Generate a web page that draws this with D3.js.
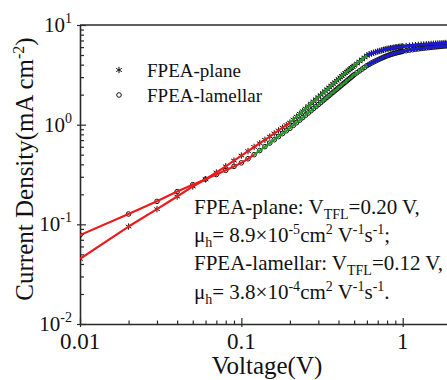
<!DOCTYPE html>
<html><head><meta charset="utf-8">
<script src="https://cdn.jsdelivr.net/npm/d3@7"></script>
<style>
html,body{margin:0;padding:0;background:#fff;overflow:hidden}
svg{display:block}
text{font-family:"Liberation Serif","Times New Roman",serif;fill:#111}
</style></head><body>
<svg id="chart" width="447" height="380"></svg>
<script>
// ---- data ----
const voltage = [
 0.01,0.02,0.03,0.04,0.05,0.06,0.07,0.08,0.09,0.10,
 0.11,0.12,0.13,0.14,0.15,0.16,0.17,0.18,0.19,0.20,
 0.21,0.22,0.23,0.24,0.25,0.26,0.27,0.28,0.29,0.30,
 0.31,0.32,0.33,0.34,0.35,0.36,0.37,0.38,0.39,0.40,
 0.41,0.42,0.43,0.44,0.45,0.46,0.47,0.48,0.49,0.50,
 0.52,0.54,0.56,0.58,0.60,0.62,0.64,0.66,0.68,0.70,
 0.72,0.74,0.76,0.78,0.80,0.82,0.84,0.86,0.88,0.90,
 0.92,0.94,0.96,0.98,1.00,
 1.05,1.10,1.15,1.20,1.25,1.30,1.35,1.40,1.45,1.50,
 1.55,1.60,1.65,1.70,1.75,1.80,1.85,1.90,1.95,2.00];
const planeJ = [
 0.045,0.095,0.142,0.19,0.24,0.283,0.331,0.382,0.436,0.49,
 0.543,0.597,0.651,0.705,0.76,0.817,0.875,0.932,0.99,1.05,
 1.127,1.205,1.286,1.368,1.451,1.536,1.623,1.71,1.80,1.89,
 1.982,2.076,2.17,2.266,2.364,2.462,2.562,2.663,2.765,2.869,
 2.973,3.079,3.186,3.294,3.40,3.498,3.597,3.698,3.798,3.899,
 4.103,4.31,4.518,4.729,4.942,5.08,5.18,5.27,5.35,5.42,
 5.49,5.56,5.63,5.70,5.76,5.80,5.84,5.88,5.92,5.96,
 5.99,6.02,6.05,6.08,6.10,
 6.15,6.19,6.23,6.27,6.31,6.35,6.38,6.41,6.43,6.46,
 6.48,6.50,6.52,6.54,6.56,6.58,6.59,6.61,6.62,6.64];
const lamellarJ = [
 0.078,0.127,0.170,0.213,0.25,0.284,0.316,0.348,0.381,0.414,
 0.455,0.50,0.550,0.602,0.654,0.706,0.759,0.813,0.868,0.92,
 0.983,1.046,1.111,1.177,1.244,1.311,1.379,1.449,1.519,1.591,
 1.662,1.735,1.809,1.883,1.958,2.034,2.111,2.188,2.266,2.345,
 2.424,2.505,2.586,2.667,2.749,2.832,2.915,3.0,3.084,3.17,
 3.316,3.463,3.611,3.760,3.910,4.03,4.15,4.26,4.36,4.46,
 4.56,4.65,4.74,4.83,4.91,4.98,5.05,5.11,5.17,5.22,
 5.27,5.32,5.36,5.40,5.44,
 5.52,5.59,5.65,5.71,5.76,5.81,5.85,5.89,5.93,5.97,
 6.00,6.03,6.06,6.09,6.12,6.15,6.17,6.19,6.21,6.23];
// fit regions: ohmic (red), trap-filled limit (green), child (blue)
const planeFitBreaks = [0.01, 0.20, 0.60, 2.0];
const lamellarFitBreaks = [0.01, 0.12, 0.60, 2.0];
const fitColors = ["#ec1a1a", "#1f9a22", "#1a1ad6"];
const seriesNames = ["FPEA-plane", "FPEA-lamellar"];
const xTickValues = [0.01, 0.1, 1];
const xTickLabels = ["0.01", "0.1", "1"];
const yTickValues = [0.01, 0.1, 1, 10];
const yTickExponents = ["-2", "-1", "0", "1"];

// ---- chart ----
const svg = d3.select("#chart");
const x = d3.scaleLog().domain([0.01, 2]).range([80, 80 + 161.35 * Math.log10(200)]);
const y = d3.scaleLog().domain([0.01, 10]).range([324, 25]);
const axisColor = "#2a2a2a";

function minorTicks(lo, hi) {
  const out = [];
  for (let e = Math.log10(lo); e < Math.log10(hi); e++) {
    for (let m = 2; m <= 9; m++) { const v = m * Math.pow(10, e); if (v <= hi) out.push(+v.toPrecision(3)); }
  }
  return out;
}

// axes
const gx = svg.append("g").attr("transform", "translate(0,324)");
gx.call(d3.axisBottom(x).tickValues(xTickValues).tickSize(3).tickSizeOuter(0).tickFormat(() => ""));
gx.call(g => g.selectAll(".tick line").clone().attr("y2", -6));
const gxm = svg.append("g").attr("transform", "translate(0,324)")
  .call(d3.axisBottom(x).tickValues(minorTicks(0.01, 2)).tickSize(-3.5).tickSizeOuter(0).tickFormat(() => ""));
gxm.select(".domain").remove();
const gy = svg.append("g").attr("transform", "translate(80,0)");
gy.call(d3.axisLeft(y).tickValues(yTickValues).tickSize(3).tickSizeOuter(0).tickFormat(() => ""));
gy.call(g => g.selectAll(".tick line").clone().attr("x2", 6));
const gym = svg.append("g").attr("transform", "translate(80,0)")
  .call(d3.axisLeft(y).tickValues(minorTicks(0.01, 10)).tickSize(-4).tickSizeOuter(0).tickFormat(() => ""));
gym.select(".domain").remove();
svg.selectAll(".domain").attr("stroke", axisColor).attr("stroke-width", 1.6);
svg.selectAll(".tick line").attr("stroke", axisColor).attr("stroke-width", 1.2);
// top frame
svg.append("line").attr("x1", x.range()[0]).attr("x2", x.range()[1])
  .attr("y1", y.range()[1]).attr("y2", y.range()[1]).attr("stroke", axisColor).attr("stroke-width", 1.6);

// tick labels
xTickValues.forEach((v, i) => {
  svg.append("text").attr("x", x(v)).attr("y", 349).attr("text-anchor", "middle")
    .attr("font-size", 23).text(xTickLabels[i]);
});
yTickValues.forEach((v, i) => {
  const t = svg.append("text").attr("x", 72).attr("y", y(v) + 7).attr("text-anchor", "end").attr("font-size", 21);
  t.append("tspan").text("10");
  t.append("tspan").attr("dy", -9).attr("font-size", 14).text(yTickExponents[i]);
});
// axis titles
svg.append("text").attr("x", 267).attr("y", 374).attr("text-anchor", "middle").attr("font-size", 25).text("Voltage(V)");
const yl = svg.append("text").attr("transform", "translate(33,169) rotate(-90)").attr("text-anchor", "middle").attr("font-size", 25);
yl.append("tspan").text("Current Density(mA cm");
yl.append("tspan").attr("dy", -9).attr("font-size", 16).text("-2");
yl.append("tspan").attr("dy", 9).text(")");

// data markers
svg.append("defs").append("clipPath").attr("id", "plot")
  .append("rect").attr("x", 80).attr("y", 25).attr("width", 400).attr("height", 299);
const plotG = svg.append("g").attr("clip-path", "url(#plot)");
const planePts = voltage.map((v, i) => [v, planeJ[i]]);
const lamPts = voltage.map((v, i) => [v, lamellarJ[i]]);
const asterisk = "M0,-3.2V3.2M-2.8,-1.6L2.8,1.6M-2.8,1.6L2.8,-1.6";
plotG.append("g").selectAll("path").data(planePts).join("path")
  .attr("transform", d => `translate(${x(d[0])},${y(d[1])})`)
  .attr("d", asterisk).attr("stroke", "#111").attr("stroke-width", 1).attr("fill", "none");
plotG.append("g").selectAll("circle").data(lamPts).join("circle")
  .attr("cx", d => x(d[0])).attr("cy", d => y(d[1])).attr("r", 2.3)
  .attr("fill", "none").attr("stroke", "#111").attr("stroke-width", 1);

// fit lines
const line = d3.line().x(d => x(d[0])).y(d => y(d[1]));
function drawFits(pts, breaks) {
  for (let k = 0; k < 3; k++) {
    const seg = pts.filter(d => d[0] >= breaks[k] - 1e-9 && d[0] <= breaks[k + 1] + 1e-9);
    plotG.append("path").datum(seg).attr("d", line).attr("fill", "none")
      .attr("stroke", fitColors[k]).attr("stroke-width", k === 2 ? 2.8 : 2.2)
      .attr("stroke-linejoin", "round");
  }
}
drawFits(planePts, planeFitBreaks);
drawFits(lamPts, lamellarFitBreaks);

// legend
svg.append("path").attr("transform", "translate(119,70)").attr("d", asterisk)
  .attr("stroke", "#111").attr("stroke-width", 1).attr("fill", "none");
svg.append("circle").attr("cx", 119).attr("cy", 95).attr("r", 2.3)
  .attr("fill", "none").attr("stroke", "#111").attr("stroke-width", 1);
svg.append("text").attr("x", 147).attr("y", 77).attr("font-size", 19).text(seriesNames[0]);
svg.append("text").attr("x", 147).attr("y", 102).attr("font-size", 19).text(seriesNames[1]);

// annotation
function annot(yPos, parts) {
  const t = svg.append("text").attr("x", 194).attr("y", yPos).attr("font-size", 21);
  let shift = 0;
  parts.forEach(p => {
    const [txt, kind] = p;
    const target = kind === "sub" ? 5 : kind === "sup" ? -8 : 0;
    const ts = t.append("tspan").attr("dy", target - shift).text(txt);
    if (kind) ts.attr("font-size", 14);
    shift = target;
  });
}
annot(214, [["FPEA-plane: V"], ["TFL", "sub"], ["=0.20 V,"]]);
annot(242, [["\u03bc"], ["h", "sub"], ["= 8.9\u00d710"], ["-5", "sup"], ["cm"], ["2", "sup"], [" V"], ["-1", "sup"], ["s"], ["-1", "sup"], [";"]]);
annot(270, [["FPEA-lamellar: V"], ["TFL", "sub"], ["=0.12 V,"]]);
annot(299, [["\u03bc"], ["h", "sub"], ["= 3.8\u00d710"], ["-4", "sup"], ["cm"], ["2", "sup"], [" V"], ["-1", "sup"], ["s"], ["-1", "sup"], ["."]]);
</script>
</body></html>
